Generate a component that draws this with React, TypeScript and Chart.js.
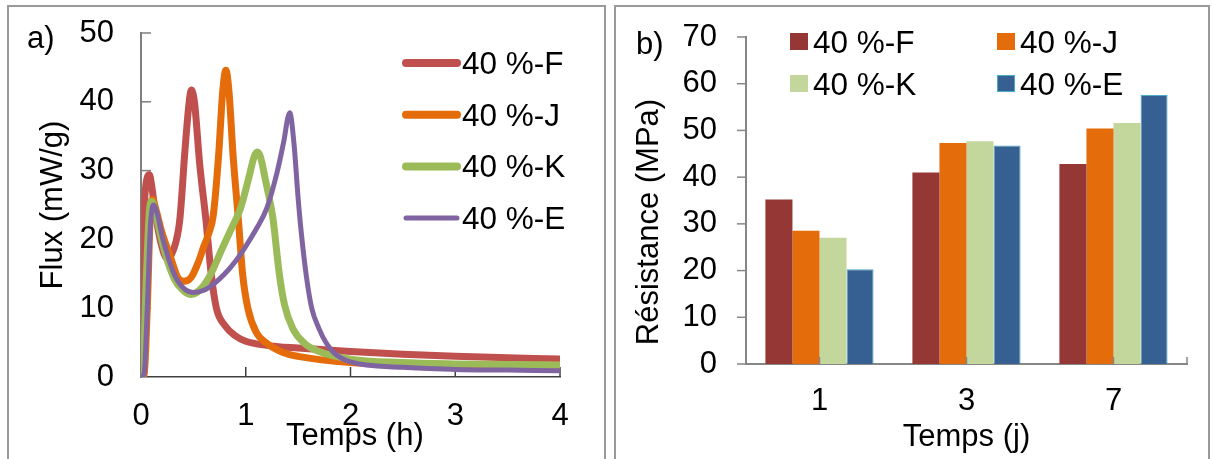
import React, { useEffect, useRef } from 'react';
import { Chart, registerables } from 'chart.js';

Chart.register(...registerables);

const FONT = '"Liberation Sans", Arial, sans-serif';

// ---------- Panel a) : heat flux curves ----------
const seriesNames = ['40 %-F', '40 %-J', '40 %-K', '40 %-E'];
const lineColors = ['#C0504D', '#E46C0A', '#9BBB59', '#8064A2'];
const lineWidths = [7, 7, 7, 5];

const timeF = [0, 0.01, 0.03, 0.06, 0.08, 0.1, 0.14, 0.19, 0.25, 0.31, 0.37, 0.42, 0.46, 0.48, 0.51, 0.56, 0.62, 0.67, 0.72, 0.8, 0.9, 1.0, 1.2, 1.5, 2.0, 2.5, 3.0, 3.5, 4.0];
const fluxF = [0, 10, 24, 29, 29.4, 28, 23.5, 19.5, 17.2, 18.5, 22.8, 33, 40, 41.7, 40, 31, 22.8, 15, 10, 7.5, 6.0, 5.2, 4.6, 4.2, 3.7, 3.3, 3.0, 2.8, 2.6];

const timeJ = [0, 0.03, 0.06, 0.09, 0.11, 0.14, 0.2, 0.28, 0.35, 0.41, 0.48, 0.55, 0.6, 0.65, 0.69, 0.74, 0.78, 0.81, 0.84, 0.88, 0.93, 0.97, 1.02, 1.1, 1.2, 1.35, 1.5, 2.0, 2.5, 3.0, 3.5, 4.0];
const fluxJ = [0, 0.3, 10, 24, 25.8, 24.5, 21, 17.5, 14.5, 13.9, 14.5, 16.8, 19, 21, 23.5, 32, 41.5, 44.6, 41.5, 32, 22.8, 15, 10, 6.5, 4.9, 3.6, 3.0, 2.1, 1.9, 1.8, 1.75, 1.7];

const timeK = [0, 0.02, 0.05, 0.08, 0.1, 0.13, 0.18, 0.25, 0.32, 0.4, 0.47, 0.55, 0.65, 0.77, 0.87, 0.95, 1.03, 1.08, 1.11, 1.14, 1.19, 1.26, 1.32, 1.37, 1.45, 1.56, 1.7, 2.0, 2.5, 3.0, 3.5, 4.0];
const fluxK = [0, 1, 14, 24, 25.5, 24.5, 21, 17, 14.2, 12.6, 12.0, 12.5, 14.5, 18.5, 21.8, 24.5, 29, 32, 32.7, 32, 28.5, 23, 15, 10.5, 7, 4.9, 3.7, 2.6, 2.1, 1.9, 1.8, 1.75];

const timeE = [0, 0.03, 0.06, 0.09, 0.12, 0.15, 0.21, 0.31, 0.4, 0.5, 0.6, 0.7, 0.8, 0.9, 1.0, 1.1, 1.2, 1.3, 1.36, 1.42, 1.46, 1.5, 1.53, 1.58, 1.63, 1.7, 1.77, 1.85, 2.0, 2.5, 3.0, 3.5, 4.0];
const fluxE = [0, 0.5, 10, 22, 25, 24, 20, 15.2, 13, 12.3, 12.6, 13.6, 15, 16.8, 19, 21.5, 24.5, 29.8, 34, 38.4, 34, 26, 21, 14.5, 10, 7, 4.9, 3.4, 2.2, 1.4, 1.1, 1.0, 0.9];

const fluxTimes = [timeF, timeJ, timeK, timeE];
const fluxValues = [fluxF, fluxJ, fluxK, fluxE];

// ---------- Panel b) : strength bars ----------
const days = ['1', '3', '7'];
const resF = [35.2, 41.0, 42.8];
const resJ = [28.5, 47.3, 50.4];
const resK = [27.0, 47.7, 51.6];
const resE = [20.3, 46.8, 57.6];
const resValues = [resF, resJ, resK, resE];
const barColors = ['#953735', '#E46C0A', '#C3D69B', '#376092'];
const barBorders = ['#953735', '#E46C0A', '#C3D69B', '#4BACC6'];

const tickFont = { family: FONT, size: 31 };
const titleFont = { family: FONT, size: 31 };

const leftExtras = {
  id: 'leftExtras',
  beforeDatasetsDraw(chart: any) {
    const { ctx, chartArea, scales } = chart;
    ctx.save();
    ctx.lineWidth = 1.5;
    ctx.strokeStyle = '#7f7f7f';
    for (let v = 10; v <= 50; v += 10) {
      const y = scales.y.getPixelForValue(v);
      ctx.beginPath();
      ctx.moveTo(chartArea.left, y);
      ctx.lineTo(chartArea.left + 10, y);
      ctx.stroke();
    }
    ctx.strokeStyle = '#404040';
    for (let v = 1; v <= 4; v++) {
      const x = scales.x.getPixelForValue(v);
      ctx.beginPath();
      ctx.moveTo(x, chartArea.bottom);
      ctx.lineTo(x, chartArea.bottom - 10);
      ctx.stroke();
    }
    ctx.restore();
  },
  afterDraw(chart: any) {
    const { ctx } = chart;
    ctx.save();
    ctx.font = `31px ${FONT}`;
    ctx.fillStyle = '#000';
    ctx.textBaseline = 'alphabetic';
    ctx.textAlign = 'left';
    ctx.fillText('a)', 27, 48);
    ctx.font = `31.5px ${FONT}`;
    chart.data.datasets.forEach((ds: any, i: number) => {
      const cy = 63 + i * 51.7;
      ctx.beginPath();
      ctx.lineCap = 'round';
      ctx.strokeStyle = ds.borderColor;
      ctx.lineWidth = i === 3 ? 5 : 8;
      ctx.moveTo(406, cy);
      ctx.lineTo(457, cy);
      ctx.stroke();
      ctx.fillStyle = '#000';
      ctx.fillText(ds.label, 462, cy + 11);
    });
    ctx.restore();
  },
};

const rightExtras = {
  id: 'rightExtras',
  afterDatasetsDraw(chart: any) {
    const { ctx, chartArea, scales } = chart;
    ctx.save();
    ctx.lineWidth = 1.5;
    ctx.strokeStyle = '#868686';
    const xs = days.map((_, i) => scales.x.getPixelForValue(i));
    xs.push(chartArea.right);
    xs.forEach((x) => {
      ctx.beginPath();
      ctx.moveTo(x, chartArea.bottom);
      ctx.lineTo(x, chartArea.bottom - 7);
      ctx.stroke();
    });
    for (let v = 0; v <= 70; v += 10) {
      const y = scales.y.getPixelForValue(v);
      ctx.beginPath();
      ctx.moveTo(chartArea.left - 9, y);
      ctx.lineTo(chartArea.left, y);
      ctx.stroke();
    }
    ctx.restore();
  },
  afterDraw(chart: any) {
    const { ctx } = chart;
    ctx.save();
    ctx.font = `31px ${FONT}`;
    ctx.fillStyle = '#000';
    ctx.textBaseline = 'alphabetic';
    ctx.textAlign = 'left';
    ctx.fillText('b)', 26, 54);
    ctx.font = `31.5px ${FONT}`;
    chart.data.datasets.forEach((ds: any, i: number) => {
      const col = i % 2;
      const row = Math.floor(i / 2);
      const bx = col === 0 ? 180 : 387;
      const by = row === 0 ? 33 : 75;
      ctx.fillStyle = ds.backgroundColor;
      ctx.fillRect(bx, by, 18, 17);
      if (i === 3) {
        ctx.strokeStyle = ds.borderColor;
        ctx.lineWidth = 1;
        ctx.strokeRect(bx + 0.5, by + 0.5, 17, 16);
      }
      ctx.fillStyle = '#000';
      ctx.fillText(ds.label, bx + 23, by + 19.5);
    });
    ctx.restore();
  },
};

function FluxChart() {
  const ref = useRef<HTMLCanvasElement>(null);
  useEffect(() => {
    const chart = new Chart(ref.current as HTMLCanvasElement, {
      type: 'line',
      data: {
        datasets: seriesNames.map((name, i) => ({
          label: name,
          data: fluxTimes[i].map((t, k) => ({ x: t, y: fluxValues[i][k] })),
          borderColor: lineColors[i],
          backgroundColor: lineColors[i],
          borderWidth: lineWidths[i],
          pointRadius: 0,
          cubicInterpolationMode: 'monotone',
          borderCapStyle: 'round',
          borderJoinStyle: 'round',
          fill: false,
          order: 4 - i,
        })),
      },
      options: {
        responsive: false,
        animation: false,
        events: [],
        layout: { padding: { left: 0, top: 33, right: 50, bottom: 0 } },
        plugins: { legend: { display: false }, tooltip: { enabled: false } },
        scales: {
          x: {
            type: 'linear',
            min: 0,
            max: 4,
            afterFit: (s: any) => { s.height = 82; },
            ticks: { stepSize: 1, font: tickFont, color: '#000', padding: 21, maxRotation: 0 },
            grid: { display: false, drawTicks: false },
            border: { display: true, color: '#404040', width: 1.5 },
            title: { display: true, text: ' Temps (h)', font: titleFont, color: '#000', padding: { top: 0, bottom: 4 } },
          },
          y: {
            min: 0,
            max: 50,
            afterFit: (s: any) => { s.width = 141; },
            ticks: { stepSize: 10, font: tickFont, color: '#000', padding: 0 },
            grid: { display: false, drawTicks: true, tickLength: 27 },
            border: { display: true, color: '#7f7f7f', width: 2 },
            title: { display: true, text: 'Flux (mW/g)', font: titleFont, color: '#000', padding: { top: 35, bottom: 0 } },
          },
        },
      },
      plugins: [leftExtras],
    } as any);
    return () => chart.destroy();
  }, []);
  return <canvas ref={ref} width={610} height={459} style={{ position: 'absolute', left: 0, top: 0, display: 'block' }} />;
}

function StrengthChart() {
  const ref = useRef<HTMLCanvasElement>(null);
  useEffect(() => {
    const chart = new Chart(ref.current as HTMLCanvasElement, {
      type: 'bar',
      data: {
        labels: days,
        datasets: seriesNames.map((name, i) => ({
          label: name,
          data: resValues[i],
          backgroundColor: barColors[i],
          borderColor: barBorders[i],
          borderWidth: i === 3 ? 1 : 0,
          barPercentage: 1,
          categoryPercentage: 0.736,
        })),
      },
      options: {
        responsive: false,
        animation: false,
        events: [],
        layout: { padding: { left: 0, top: 37, right: 25, bottom: 0 } },
        plugins: { legend: { display: false }, tooltip: { enabled: false } },
        scales: {
          x: {
            type: 'category',
            offset: true,
            afterFit: (s: any) => { s.height = 95; },
            ticks: { font: tickFont, color: '#000', padding: 19, maxRotation: 0 },
            grid: { display: false, drawTicks: false },
            border: { display: true, color: '#868686', width: 2 },
            title: { display: true, text: 'Temps (j)', font: titleFont, color: '#000', padding: { top: 0, bottom: 3 } },
          },
          y: {
            min: 0,
            max: 70,
            afterFit: (s: any) => { s.width = 136; },
            ticks: { stepSize: 10, font: tickFont, color: '#000', padding: 0 },
            grid: { display: false, drawTicks: true, tickLength: 29 },
            border: { display: true, color: '#868686', width: 2 },
            title: { display: true, text: 'Résistance (MPa)     ', font: titleFont, color: '#000', padding: { top: 21, bottom: 0 } },
          },
        },
      },
      plugins: [rightExtras],
    } as any);
    return () => chart.destroy();
  }, []);
  return <canvas ref={ref} width={602} height={459} style={{ position: 'absolute', left: 610, top: 0, display: 'block' }} />;
}

export default function App() {
  return (
    <div style={{ position: 'absolute', left: 0, top: 0, width: 1212, height: 459, overflow: 'hidden', background: '#fff' }}>
      <div style={{ position: 'absolute', left: 7, top: 5, width: 599, height: 520, border: '2px solid #9a9a9a', boxSizing: 'border-box' }} />
      <div style={{ position: 'absolute', left: 614, top: 5, width: 596, height: 520, border: '2px solid #9a9a9a', boxSizing: 'border-box' }} />
      <FluxChart />
      <StrengthChart />
    </div>
  );
}
